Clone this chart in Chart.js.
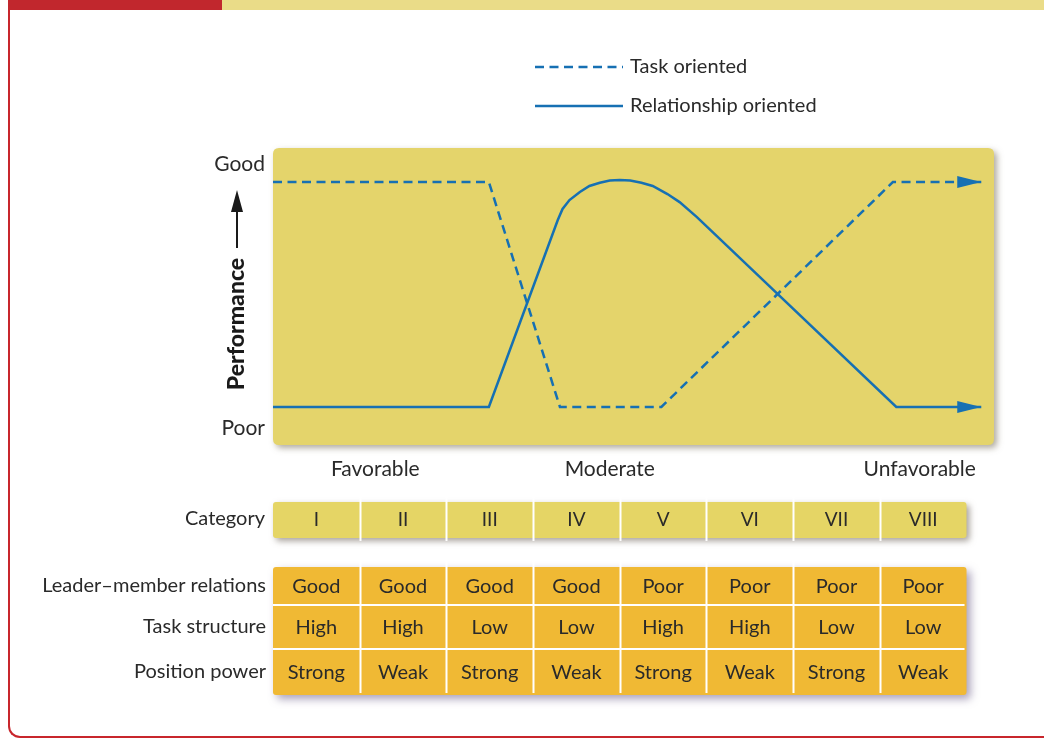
<!DOCTYPE html>
<html>
<head>
<meta charset="utf-8">
<script src="https://cdn.jsdelivr.net/npm/chart.js@4"></script>
<style>
  html, body { margin: 0; padding: 0; background: #fff; overflow: hidden; }
  #wrap { position: relative; width: 1044px; height: 738px; overflow: hidden; }
  .bar-red { position: absolute; left: 8px; top: 0; width: 214px; height: 10px; background: #c1272d; }
  .bar-tan { position: absolute; left: 222px; top: 0; width: 822px; height: 10px; background: #eadc88; }
  .frame { position: absolute; left: 8px; top: 10px; width: 1040px; height: 726px;
           border-left: 2px solid #c8262c; border-bottom: 2px solid #c8262c;
           border-bottom-left-radius: 12px; }
  canvas { position: absolute; left: 0; top: 0; }
</style>
</head>
<body>
<div id="wrap">
  <div class="bar-red"></div>
  <div class="bar-tan"></div>
  <div class="frame"></div>
  <canvas id="chart" width="1044" height="738"></canvas>
</div>
<script>
// categories and situation table
const categories = ['I', 'II', 'III', 'IV', 'V', 'VI', 'VII', 'VIII'];
const rowLabels = ['Leader–member relations', 'Task structure', 'Position power'];
const leaderMember = ['Good', 'Good', 'Good', 'Good', 'Poor', 'Poor', 'Poor', 'Poor'];
const taskStructure = ['High', 'High', 'Low', 'Low', 'High', 'High', 'Low', 'Low'];
const positionPower = ['Strong', 'Weak', 'Strong', 'Weak', 'Strong', 'Weak', 'Strong', 'Weak'];

// performance curves (x in category units, y performance 0-10)
const taskX = [0, 2.49, 3.31, 4.48, 7.15, 8.17];
const taskY = [8.86, 8.86, 1.34, 1.34, 8.86, 8.86];
const relX = [0, 2.49, 3.285, 3.34, 3.42, 3.54, 3.65, 3.77, 3.885, 4.0, 4.12, 4.25, 4.38, 4.55, 4.69, 4.89, 7.19, 8.17];
const relY = [1.34, 1.34, 7.59, 7.96, 8.26, 8.53, 8.73, 8.84, 8.91, 8.93, 8.91, 8.84, 8.73, 8.46, 8.19, 7.69, 1.34, 1.34];

// tick labels
const zoneTicks = [1.18, 3.885, 7.46];
const zoneLabels = ['Favorable', 'Moderate', 'Unfavorable'];
const perfTicks = [0.64, 9.46];
const perfLabels = ['Poor', 'Good'];

const FONT = 'Lato, "Noto Sans", sans-serif';
const LINE = '#1670b3';
const TEXT = '#2a2a2a';

const toPoints = (xs, ys) => xs.map((x, i) => ({ x: x, y: ys[i] }));

function roundRect(ctx, x, y, w, h, r) {
  ctx.beginPath();
  ctx.moveTo(x + r, y);
  ctx.lineTo(x + w - r, y);
  ctx.quadraticCurveTo(x + w, y, x + w, y + r);
  ctx.lineTo(x + w, y + h - r);
  ctx.quadraticCurveTo(x + w, y + h, x + w - r, y + h);
  ctx.lineTo(x + r, y + h);
  ctx.quadraticCurveTo(x, y + h, x, y + h - r);
  ctx.lineTo(x, y + r);
  ctx.quadraticCurveTo(x, y, x + r, y);
  ctx.closePath();
}

const backdrop = {
  id: 'backdrop',
  beforeDraw(chart) {
    const { ctx, chartArea: a } = chart;
    ctx.save();
    ctx.shadowColor = 'rgba(110,100,80,0.55)';
    ctx.shadowBlur = 6;
    ctx.shadowOffsetX = 3;
    ctx.shadowOffsetY = 3;
    ctx.fillStyle = '#e4d46b';
    roundRect(ctx, a.left, a.top, a.right - a.left - 2, a.bottom - a.top - 2, 6);
    ctx.fill();
    ctx.restore();
  },
  afterDraw(chart) {
    const { ctx } = chart;
    const xs = chart.scales.x;
    const ys = chart.scales.y;
    ctx.save();

    // arrowheads at the end of each line
    chart.data.datasets.forEach((ds) => {
      const p = ds.data[ds.data.length - 1];
      const px = xs.getPixelForValue(p.x);
      const py = ys.getPixelForValue(p.y);
      ctx.fillStyle = LINE;
      ctx.beginPath();
      ctx.moveTo(px, py);
      ctx.lineTo(px - 24, py - 6);
      ctx.lineTo(px - 24, py + 6);
      ctx.closePath();
      ctx.fill();
    });

    // legend
    chart.data.datasets.forEach((ds, i) => {
      const y = 67 + i * 39;
      ctx.strokeStyle = ds.borderColor;
      ctx.lineWidth = 2.5;
      ctx.setLineDash(ds.borderDash || []);
      ctx.beginPath();
      ctx.moveTo(535, y);
      ctx.lineTo(623, y);
      ctx.stroke();
      ctx.setLineDash([]);
      ctx.fillStyle = TEXT;
      ctx.font = '20px ' + FONT;
      ctx.textAlign = 'left';
      ctx.textBaseline = 'middle';
      ctx.fillText(ds.label, 630, y);
    });

    // y axis title with arrow
    ctx.save();
    ctx.translate(237, 324);
    ctx.rotate(-Math.PI / 2);
    ctx.fillStyle = '#1a1a1a';
    ctx.font = '900 23px ' + FONT;
    ctx.textAlign = 'center';
    ctx.textBaseline = 'middle';
    ctx.fillText('Performance', 0, 0);
    ctx.restore();
    ctx.strokeStyle = '#1a1a1a';
    ctx.lineWidth = 2;
    ctx.beginPath();
    ctx.moveTo(237, 248);
    ctx.lineTo(237, 205);
    ctx.stroke();
    ctx.fillStyle = '#1a1a1a';
    ctx.beginPath();
    ctx.moveTo(237, 190);
    ctx.lineTo(231, 212);
    ctx.lineTo(243, 212);
    ctx.closePath();
    ctx.fill();

    // category strip
    const left = xs.getPixelForValue(0);
    const right = xs.getPixelForValue(categories.length);
    ctx.save();
    ctx.shadowColor = 'rgba(110,100,90,0.6)';
    ctx.shadowBlur = 6;
    ctx.shadowOffsetX = 3;
    ctx.shadowOffsetY = 3;
    ctx.fillStyle = '#e5d565';
    roundRect(ctx, left, 502, right - left, 36, 3);
    ctx.fill();
    ctx.restore();

    // table block
    const rows = [leaderMember, taskStructure, positionPower];
    const rowEdges = [567, 605, 649, 695];
    ctx.save();
    ctx.shadowColor = 'rgba(100,85,130,0.55)';
    ctx.shadowBlur = 8;
    ctx.shadowOffsetX = 4;
    ctx.shadowOffsetY = 4;
    ctx.fillStyle = '#f0b934';
    roundRect(ctx, left, rowEdges[0], right - left, rowEdges[3] - rowEdges[0], 3);
    ctx.fill();
    ctx.restore();

    ctx.strokeStyle = '#ffffff';
    ctx.lineWidth = 2;
    for (let i = 1; i < categories.length; i++) {
      const x = Math.round(xs.getPixelForValue(i)) + 0.5;
      ctx.beginPath();
      ctx.moveTo(x, 490);
      ctx.lineTo(x, 541);
      ctx.moveTo(x, rowEdges[0] - 6);
      ctx.lineTo(x, rowEdges[3] - 2);
      ctx.stroke();
    }
    for (let r = 1; r < 3; r++) {
      ctx.beginPath();
      ctx.moveTo(left, rowEdges[r]);
      ctx.lineTo(right - 2, rowEdges[r]);
      ctx.stroke();
    }

    ctx.fillStyle = TEXT;
    ctx.textBaseline = 'middle';
    ctx.font = '20px ' + FONT;
    ctx.textAlign = 'right';
    ctx.fillText('Category', 265, 519);
    rowLabels.forEach((t, r) => ctx.fillText(t, 266, (rowEdges[r] + rowEdges[r + 1]) / 2));

    ctx.textAlign = 'center';
    categories.forEach((c, i) => {
      const cx = xs.getPixelForValue(i + 0.5);
      ctx.font = '19px ' + FONT;
      ctx.fillText(c, cx, 520);
      ctx.font = '20px ' + FONT;
      rows.forEach((row, r) => ctx.fillText(row[i], cx, (rowEdges[r] + rowEdges[r + 1]) / 2 + 1));
    });

    ctx.restore();
  },
};

new Chart(document.getElementById('chart'), {
  type: 'line',
  data: {
    datasets: [
      {
        label: 'Task oriented',
        data: toPoints(taskX, taskY),
        borderColor: LINE,
        borderWidth: 2.5,
        borderDash: [9, 5.5],
        pointRadius: 0,
        tension: 0,
        fill: false,
      },
      {
        label: 'Relationship oriented',
        data: toPoints(relX, relY),
        borderColor: LINE,
        borderWidth: 2.5,
        pointRadius: 0,
        tension: 0,
        fill: false,
      },
    ],
  },
  options: {
    responsive: false,
    animation: false,
    layout: { padding: { top: 148, right: 48, left: 0, bottom: 0 } },
    plugins: {
      legend: { display: false },
      tooltip: { enabled: false },
    },
    scales: {
      x: {
        type: 'linear',
        min: 0,
        max: 8.34,
        grid: { display: false },
        border: { display: false },
        afterFit: (s) => { s.height = 291; },
        afterBuildTicks: (s) => { s.ticks = zoneTicks.map((v) => ({ value: v })); },
        ticks: {
          autoSkip: false,
          maxRotation: 0,
          padding: 2,
          color: TEXT,
          font: { family: FONT, size: 21 },
          callback: (v, i) => zoneLabels[i],
        },
      },
      y: {
        type: 'linear',
        min: 0,
        max: 10,
        grid: { display: false },
        border: { display: false },
        afterFit: (s) => { s.width = 273; },
        afterBuildTicks: (s) => { s.ticks = perfTicks.map((v) => ({ value: v })); },
        ticks: {
          padding: 0,
          color: TEXT,
          font: { family: FONT, size: 21 },
          callback: (v, i) => perfLabels[i],
        },
      },
    },
  },
  plugins: [backdrop],
});
</script>
</body>
</html>
